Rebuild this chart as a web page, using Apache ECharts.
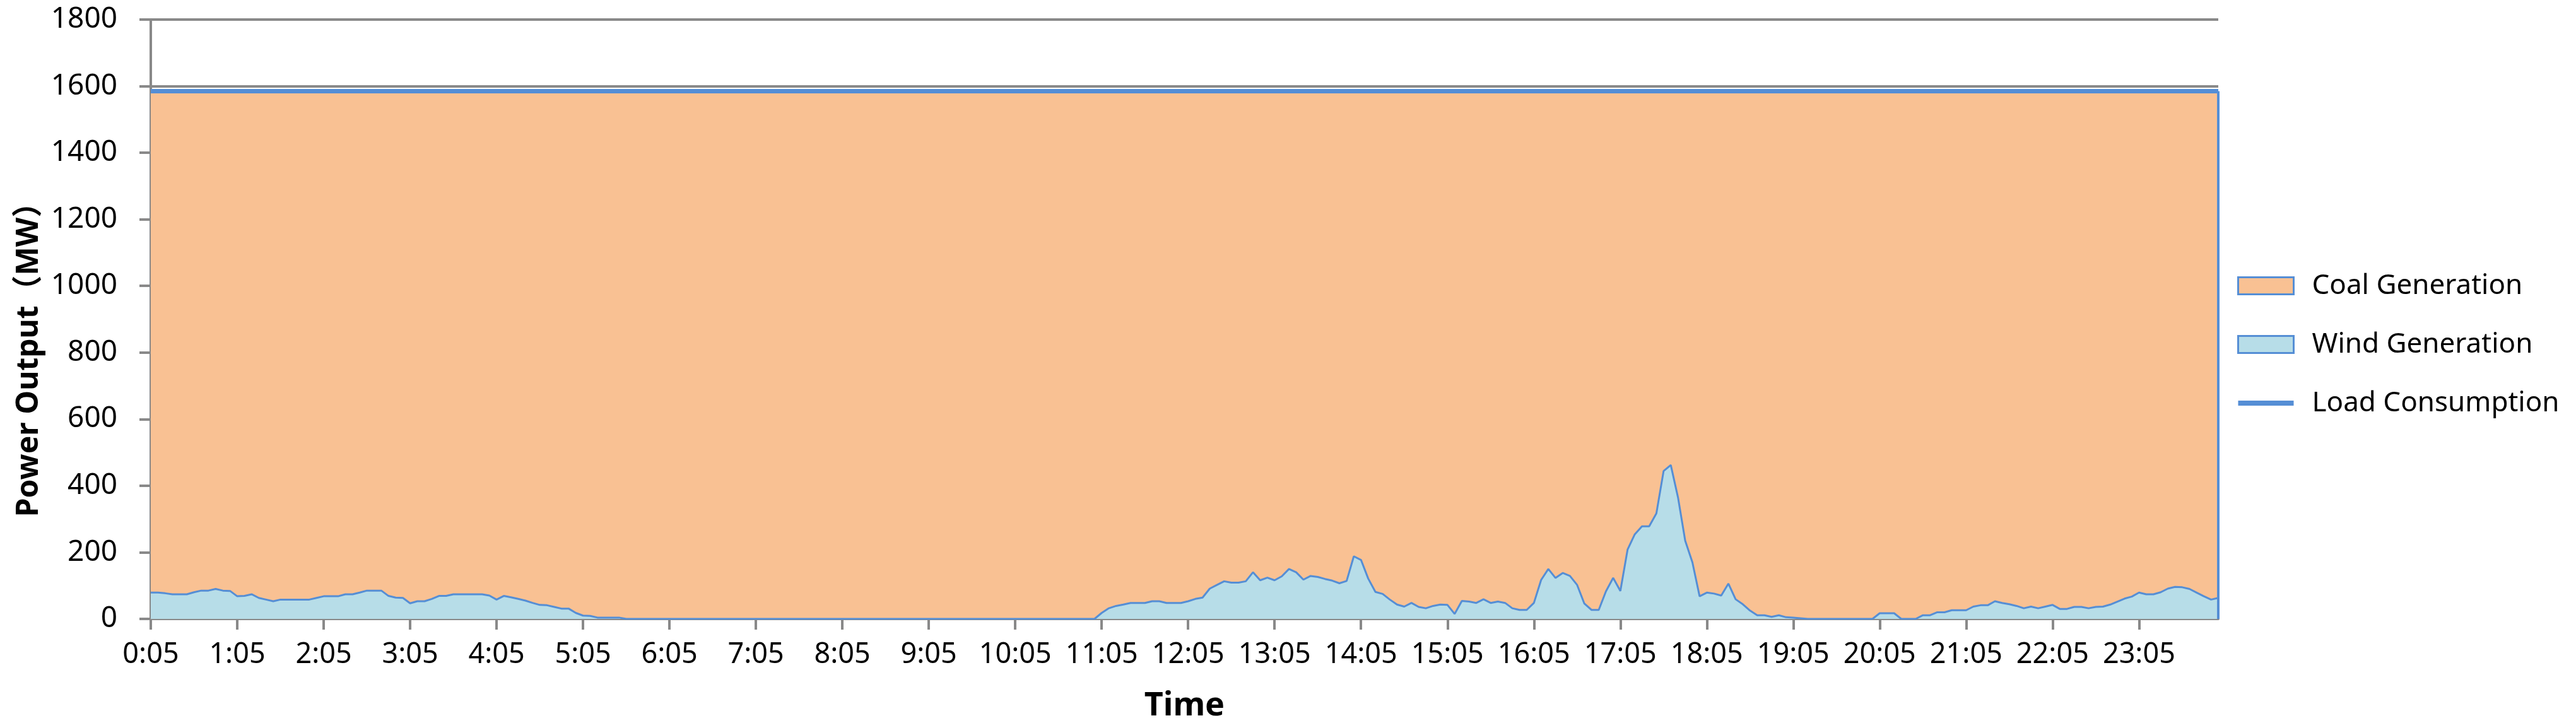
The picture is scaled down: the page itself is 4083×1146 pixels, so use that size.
<!DOCTYPE html>
<html>
<head>
<meta charset="utf-8">
<style>
  html, body { margin: 0; padding: 0; background: #fff; }
  #chart { width: 4083px; height: 1146px; }
</style>
<script src="https://cdn.jsdelivr.net/npm/echarts@6/dist/echarts.min.js"></script>
</head>
<body>
<div id="chart"></div>
<script>
// 5-minute time steps, 0:05 .. 24:00
const times = [];
for (let m = 5; m <= 24 * 60; m += 5) {
  times.push(Math.floor(m / 60) + ":" + String(m % 60).padStart(2, "0"));
}

// wind output (MW)
const windGeneration = [
  79, 79, 77, 74, 74, 74, 80, 85, 85, 90, 85, 84,
  68, 69, 74, 63, 58, 53, 58, 58, 58, 58, 58, 63,
  68, 68, 68, 74, 74, 79, 85, 85, 85, 69, 64, 63,
  47, 53, 53, 60, 69, 69, 74, 74, 74, 74, 74, 70,
  58, 69, 65, 60, 55, 48, 42, 41, 36, 31, 31, 18,
  10, 9, 4, 4, 4, 4, 0, 0, 0, 0, 0, 0,
  0, 0, 0, 0, 0, 0, 0, 0, 0, 0, 0, 0,
  0, 0, 0, 0, 0, 0, 0, 0, 0, 0, 0, 0,
  0, 0, 0, 0, 0, 0, 0, 0, 0, 0, 0, 0,
  0, 0, 0, 0, 0, 0, 0, 0, 0, 0, 0, 0,
  0, 0, 0, 0, 0, 0, 0, 0, 0, 0, 0, 0,
  18, 32, 39, 43, 48, 48, 48, 53, 53, 48, 48, 48,
  53, 60, 64, 91, 102, 113, 109, 109, 113, 140, 116, 124,
  116, 128, 150, 140, 118, 129, 126, 120, 115, 107, 114, 188,
  177, 121, 81, 75, 58, 43, 37, 48, 36, 32, 39, 43,
  42, 15, 54, 52, 48, 59, 48, 52, 48, 32, 27, 27,
  48, 117, 150, 123, 138, 129, 102, 46, 27, 27, 83, 123,
  84, 208, 254, 278, 278, 317, 444, 462, 365, 235, 170, 68,
  79, 76, 70, 106, 59, 44, 25, 11, 11, 6, 11, 5,
  4, 2, 0, 0, 0, 0, 0, 0, 0, 0, 0, 0,
  17, 17, 17, 0, 0, 0, 11, 11, 20, 20, 26, 26,
  26, 37, 41, 41, 53, 48, 44, 39, 32, 37, 32, 37,
  42, 30, 30, 36, 36, 32, 36, 37, 43, 52, 61, 67,
  79, 74, 74, 80, 91, 96, 95, 90, 79, 68, 58, 63
];

// load stays flat at about 1585 MW all day
const loadLevel = 1585;
const loadConsumption = times.map(() => loadLevel);
// coal covers whatever the wind does not
const coalGeneration = windGeneration.map((w, i) => loadConsumption[i] - w);

const yTicks = { min: 0, max: 1800, interval: 200 };

const orange = "#F9C193";
const lightBlue = "#B7DDE8";
const blue = "#558ED5";
const gray = "#898989";
const font = "'Noto Sans', 'Noto Sans CJK SC', sans-serif";

const chart = echarts.init(document.getElementById("chart"));
chart.setOption({
  animation: false,
  backgroundColor: "#fff",
  grid: { left: 239, right: 567, top: 31, bottom: 165, outerBoundsMode: "none" },
  legend: {
    orient: "vertical",
    left: 3541,
    top: 423,
    itemWidth: 88,
    itemHeight: 27,
    itemGap: 43,
    textStyle: { fontSize: 44, fontFamily: font, color: "#000", lineHeight: 50, padding: [0, 0, 0, 24] },
    data: [
      { name: "Coal Generation", icon: "rect", itemStyle: { color: orange, borderColor: blue, borderWidth: 3 } },
      { name: "Wind Generation", icon: "rect", itemStyle: { color: lightBlue, borderColor: blue, borderWidth: 3 } },
      { name: "Load Consumption", icon: "path://M0,0 H88 V8 H0 Z", itemStyle: { color: blue, borderWidth: 0 } }
    ]
  },
  xAxis: {
    type: "category",
    boundaryGap: false,
    data: times,
    name: "Time",
    nameLocation: "middle",
    nameGap: 112,
    nameTextStyle: { fontSize: 52, fontWeight: "bold", fontFamily: font, color: "#000" },
    axisLine: { lineStyle: { color: gray, width: 4 } },
    axisTick: { interval: 11, length: 17, lineStyle: { color: gray, width: 4 } },
    axisLabel: { interval: 11, margin: 35, fontSize: 45, fontFamily: font, color: "#000" },
    splitLine: { show: false }
  },
  yAxis: {
    type: "value",
    min: yTicks.min,
    max: yTicks.max,
    interval: yTicks.interval,
    name: "Power Output（MW）",
    nameLocation: "middle",
    nameGap: 165,
    nameTextStyle: { fontSize: 48, fontWeight: "bold", fontFamily: font, color: "#000", padding: [0, 104, 0, 0] },
    axisLine: { show: true, lineStyle: { color: gray, width: 4 } },
    axisTick: { show: true, length: 18, lineStyle: { color: gray, width: 4 } },
    axisLabel: { margin: 53, fontSize: 46, fontFamily: font, color: "#000", formatter: (v) => String(v) },
    splitLine: { show: true, lineStyle: { color: gray, width: 4 } }
  },
  series: [
    {
      name: "Wind Generation",
      type: "line",
      stack: "gen",
      data: windGeneration,
      symbol: "none",
      lineStyle: { color: blue, width: 3 },
      itemStyle: { color: lightBlue },
      areaStyle: { color: lightBlue, opacity: 1 },
      z: 3
    },
    {
      name: "Coal Generation",
      type: "line",
      stack: "gen",
      data: coalGeneration,
      symbol: "none",
      lineStyle: { color: blue, width: 3 },
      itemStyle: { color: orange },
      areaStyle: { color: orange, opacity: 1 },
      // right-hand border of the area, as in the original
      markLine: {
        silent: true,
        symbol: "none",
        label: { show: false },
        lineStyle: { color: blue, width: 4, type: "solid" },
        data: [[
          { xAxis: times[times.length - 1], yAxis: 0 },
          { xAxis: times[times.length - 1], yAxis: loadLevel }
        ]]
      },
      z: 2
    },
    {
      name: "Load Consumption",
      type: "line",
      data: loadConsumption,
      symbol: "none",
      lineStyle: { color: blue, width: 7 },
      itemStyle: { color: blue },
      z: 4
    }
  ]
});
</script>
</body>
</html>
